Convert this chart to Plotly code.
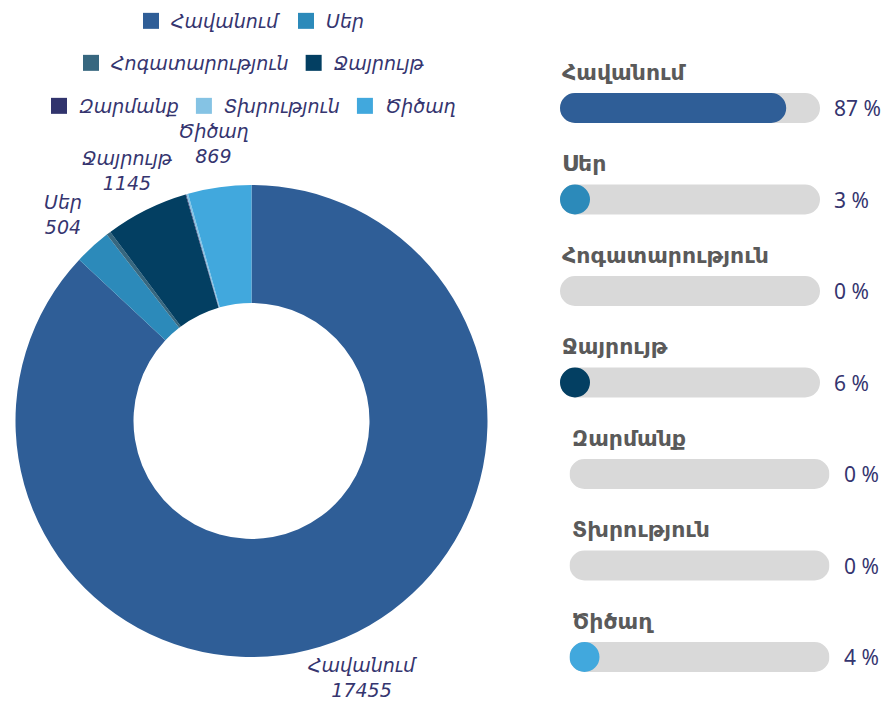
import math
import plotly.graph_objects as go

# ---------------- data ----------------
categories = ["Հավանում", "Սեր", "Հոգատարություն", "Ջայրույթ", "Զարմանք", "Տխրություն", "Ծիծաղ"]
values = [17455, 504, 60, 1145, 10, 25, 869]
colors = ["#2f5e97", "#2c8aba", "#37677f", "#033f62", "#31346d", "#85c3e4", "#41a8dd"]

# ---------------- layout helpers ----------------
W, H = 887, 707
ARM = "DejaVu Sans"
NAVY = "#35356f"
GREY_TXT = "#5a5a5a"
TRACK = "#d9d9d9"
legend_rows = [[0, 1], [2, 3], [4, 5, 6]]
legend_row_y = [21, 63, 106]          # px from top
label_min_value = 300                 # slices smaller than this get no outside label

total = sum(values)
pct = [round(v / total * 100) for v in values]

fig = go.Figure()

# ---------------- donut ----------------
cx, cy, r = 251.5, 421, 236
fig.add_trace(go.Pie(
    labels=categories,
    values=values,
    marker=dict(colors=colors, line=dict(width=0)),
    hole=0.5,
    sort=False,
    direction="clockwise",
    rotation=0,
    textinfo="none",
    showlegend=False,
    hoverinfo="skip",
    domain=dict(x=[(cx - r) / W, (cx + r) / W], y=[1 - (cy + r) / H, 1 - (cy - r) / H]),
))

annotations = []
# outside slice labels placed along each slice's mid-angle
label_dist = r + 44
cum = 0
for c, v in zip(categories, values):
    mid = (cum + v / 2) / total * 2 * math.pi
    cum += v
    if v < label_min_value:
        continue
    px = cx + label_dist * math.sin(mid)
    py = cy - label_dist * math.cos(mid)
    annotations.append(dict(
        x=px / W, y=1 - py / H, xref="paper", yref="paper",
        xanchor="center", yanchor="middle", showarrow=False,
        text=f"{c}<br>{v}", align="center",
        font=dict(family=ARM, size=19, color=NAVY, style="italic"),
    ))

# ---------------- legend (dummy traces, one legend per row) ----------------
for li, row in enumerate(legend_rows):
    lname = "legend" if li == 0 else f"legend{li + 1}"
    for i in row:
        fig.add_trace(go.Scatter(
            x=[None], y=[None], mode="markers",
            marker=dict(symbol="square", size=16, color=colors[i], line=dict(width=0)),
            name=categories[i], legend=lname, hoverinfo="skip",
        ))

# ---------------- progress bars ----------------
bar_h_px = 30
track_w_px = 260
min_fill = bar_h_px / track_w_px * 100   # a non-zero fill is at least a circle
thick = 0.328                             # bar thickness in category units


def pill(length, color, xa, cat):
    fig.add_trace(go.Bar(
        orientation="h", y=[cat], x=[length], base=[0], width=thick,
        marker=dict(color=color, line=dict(width=0), cornerradius="50%"),
        xaxis=xa, yaxis="y", showlegend=False, hoverinfo="skip",
    ))


for i, c in enumerate(categories):
    pill(100, TRACK, "x" if i < 4 else "x2", c)
for i, (c, p) in enumerate(zip(categories, pct)):
    xa = "x" if i < 4 else "x2"
    if p > 0:
        pill(max(p, min_fill), colors[i], xa, c)
    annotations.append(dict(
        x=0, y=c, xref=xa, yref="y", yshift=36, xanchor="left", yanchor="middle",
        text=c, showarrow=False,
        font=dict(family=ARM, size=22, color=GREY_TXT, weight=600),
    ))
    annotations.append(dict(
        x=100, y=c, xref=xa, yref="y", xshift=12, xanchor="left", yanchor="middle",
        text=f"{p} %", showarrow=False,
        font=dict(family="Noto Sans", size=21, color=NAVY),
    ))

first_c, last_c = 108, 657
pitch = (last_c - first_c) / 6
y_top = -first_c / pitch
y_bot = (H - first_c) / pitch

legend_common = dict(
    orientation="h", xanchor="center", x=250 / W, yanchor="middle",
    bgcolor="rgba(0,0,0,0)",
    font=dict(family=ARM, size=19, color=NAVY, style="italic"),
)
legends = {}
for li, yy in enumerate(legend_row_y):
    key = "legend" if li == 0 else f"legend{li + 1}"
    legends[key] = dict(legend_common, y=1 - yy / H)

fig.update_layout(
    width=W, height=H,
    margin=dict(l=0, r=0, t=0, b=0),
    paper_bgcolor="white", plot_bgcolor="rgba(0,0,0,0)",
    barmode="overlay",
    xaxis=dict(domain=[560 / W, 820 / W], range=[0, 100], visible=False, fixedrange=True),
    xaxis2=dict(domain=[569.5 / W, 829.5 / W], range=[0, 100], visible=False, anchor="y", fixedrange=True),
    yaxis=dict(domain=[0, 1], type="category", categoryorder="array", categoryarray=categories,
               range=[y_bot, y_top], visible=False, fixedrange=True),
    annotations=annotations,
    **legends,
)

fig.write_html("out.html", config={"displayModeBar": False},
               post_script="document.body.style.margin='0';")
